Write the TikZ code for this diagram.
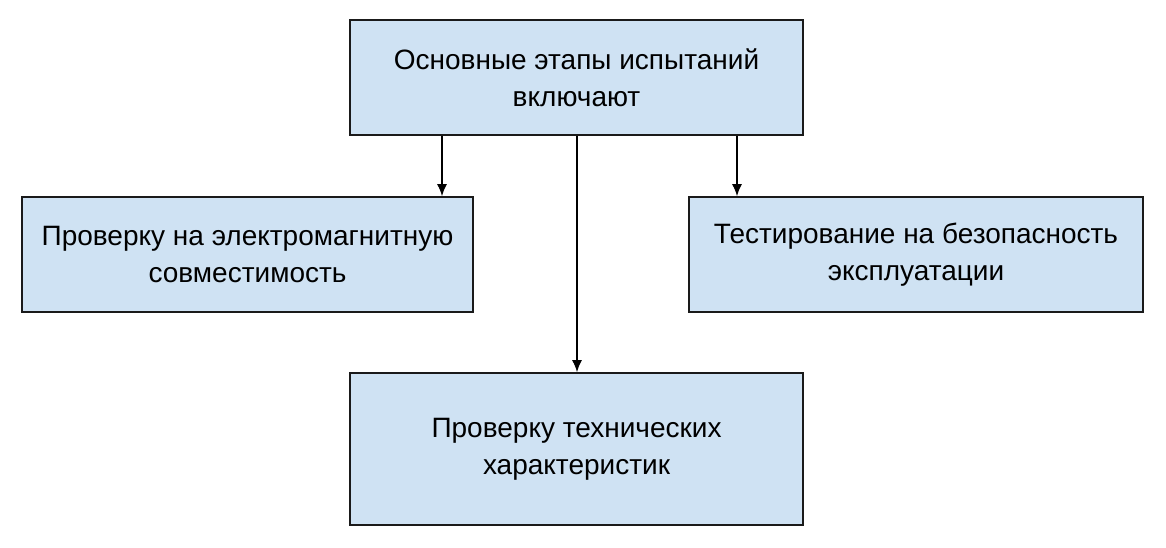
\documentclass[tikz,border=0pt]{standalone}
\usepackage{fontspec}
\setmainfont{Liberation Sans}
\usetikzlibrary{arrows.meta}
\definecolor{boxblue}{HTML}{CFE2F3}
\definecolor{boxline}{HTML}{1A1A1A}

\begin{document}
\begin{tikzpicture}[x=1pt,y=1pt,
    stage/.style={draw=boxline,line width=1.6pt,fill=boxblue,align=center,
      inner sep=0pt,font=\fontsize{28}{37}\selectfont},
    arr/.style={line width=1.5pt,-{Latex[length=12pt,width=10pt]}}]
    \useasboundingbox (0,0) rectangle (1166,-548);
    \node[stage,minimum width=453pt,minimum height=115pt] (osn) at (576.5,-77.5) {Основные этапы испытаний\\включают};
    \node[stage,minimum width=451pt,minimum height=115pt] (emc) at (247.5,-254.5) {Проверку на электромагнитную\\совместимость};
    \node[stage,minimum width=454pt,minimum height=115pt] (bez) at (916,-254.5) {Тестирование на безопасность\\эксплуатации};
    \node[stage,minimum width=453pt,minimum height=152pt] (teh) at (576.5,-449) {Проверку технических\\характеристик};
    \coordinate (xl) at (442,0);
    \coordinate (xm) at (577,0);
    \coordinate (xr) at (737,0);
    \draw[arr] (osn.south -| xl) -- (emc.north -| xl);
    \draw[arr] (osn.south -| xm) -- (teh.north -| xm);
    \draw[arr] (osn.south -| xr) -- (bez.north -| xr);
\end{tikzpicture}
\end{document}
